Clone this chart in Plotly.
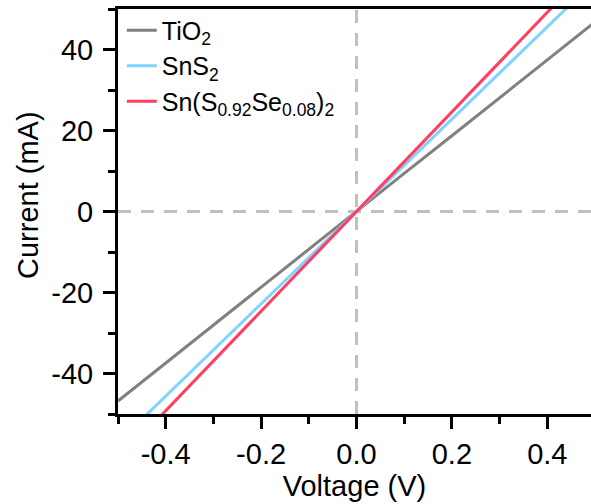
import plotly.graph_objects as go

voltage = [-0.5, -0.4, -0.3, -0.2, -0.1, 0.0, 0.1, 0.2, 0.3, 0.4, 0.5]
tio2 = [-46.8, -37.4, -28.1, -18.7, -9.4, 0.0, 9.4, 18.7, 28.1, 37.4, 46.8]
sns2 = [-57.0, -45.6, -34.2, -22.8, -11.4, 0.0, 11.4, 22.8, 34.2, 45.6, 57.0]
snsse = [-61.5, -49.2, -36.9, -24.6, -12.3, 0.0, 12.3, 24.6, 36.9, 49.2, 61.5]

names = ["TiO<sub>2</sub>", "SnS<sub>2</sub>", "Sn(S<sub>0.92</sub>Se<sub>0.08</sub>)<sub>2</sub>"]
colors = ["#808080", "#80d2ff", "#ff3e62"]

x_ticks = [-0.4, -0.2, 0.0, 0.2, 0.4]
x_ticktext = ["-0.4", "-0.2", "0.0", "0.2", "0.4"]
y_ticks = [-40, -20, 0, 20, 40]
y_ticktext = ["-40", "-20", "0", "20", "40"]

FONT = "Liberation Sans, Arial, sans-serif"

W, H = 591, 504
L, R, T, B = 118, 0, 9, 90
plot_h = H - T - B

fig = go.Figure()
for ys, name, c in zip([tio2, sns2, snsse], names, colors):
    fig.add_trace(go.Scatter(x=voltage, y=ys, mode="lines", name=name,
                             line=dict(color=c, width=3), cliponaxis=True))

# dashed zero lines
fig.add_shape(type="line", xref="x", yref="paper", x0=0, x1=0, y0=0, y1=1,
              line=dict(color="#c0c0c0", width=3, dash="13px,10px"), layer="below")
fig.add_shape(type="line", xref="paper", yref="y", x0=0, x1=1, y0=0, y1=0,
              line=dict(color="#c0c0c0", width=3, dash="13px,10px"), layer="below")

# y-axis title (placed slightly above the plot centre, as in the reference)
fig.add_annotation(text="Current (mA)", textangle=-90, showarrow=False,
                   xref="paper", yref="paper",
                   x=(28 - L) / (W - L - R), xanchor="center",
                   y=(H - B - 195) / plot_h, yanchor="middle",
                   font=dict(size=29, family=FONT, color="black"))

fig.update_layout(
    width=W, height=H,
    margin=dict(l=L, r=R, t=T, b=B, autoexpand=False),
    paper_bgcolor="white", plot_bgcolor="white",
    font=dict(family=FONT, size=29, color="black"),
    showlegend=True,
    legend=dict(x=0.008, y=1.004, xanchor="left", yanchor="top",
                bgcolor="rgba(0,0,0,0)", font=dict(size=25),
                itemwidth=30, tracegroupgap=0),
)
fig.update_xaxes(
    automargin=False,
    range=[-0.5, 0.4916], showgrid=False, zeroline=False,
    showline=True, linecolor="black", linewidth=3, mirror=True,
    ticks="outside", ticklen=12, tickwidth=2.5, tickcolor="black",
    tickvals=x_ticks, ticktext=x_ticktext,
    minor=dict(dtick=0.1, tick0=-0.5, ticks="outside", ticklen=7, tickwidth=2.5, tickcolor="black"),
    title=dict(text="Voltage (V)", font=dict(size=29), standoff=4),
)
fig.update_yaxes(
    automargin=False,
    range=[-50, 50], showgrid=False, zeroline=False,
    showline=True, linecolor="black", linewidth=3, mirror=False,
    ticks="outside", ticklen=12, tickwidth=2.5, tickcolor="black",
    tickvals=y_ticks, ticktext=y_ticktext, ticklabelstandoff=4,
    minor=dict(dtick=10, tick0=-50, ticks="outside", ticklen=7, tickwidth=2.5, tickcolor="black"),
)

fig.write_html("out.html", config={"displayModeBar": False},
               post_script="document.body.style.margin='0';")
